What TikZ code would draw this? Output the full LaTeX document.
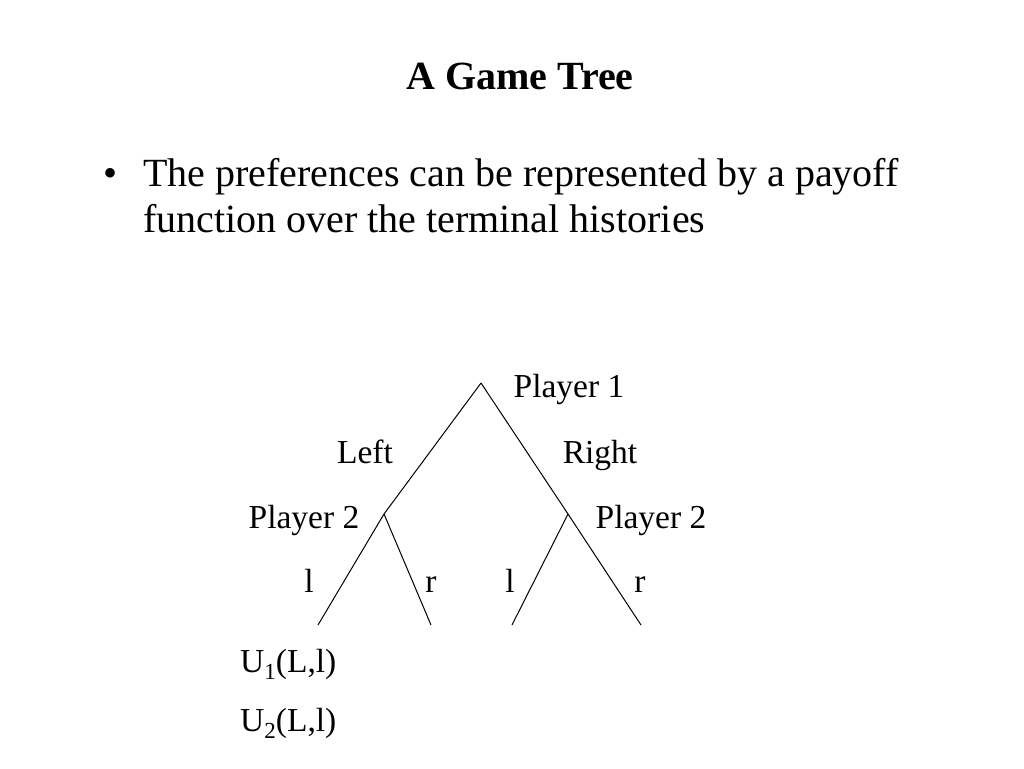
\documentclass[tikz,border=0pt]{standalone}
\usepackage{fontspec}
\setmainfont{Liberation Serif}
\newcommand{\subdown}[1]{\raisebox{-7pt}{\fontsize{23}{24}\selectfont #1}}
\begin{document}
\begin{tikzpicture}[x=1pt,y=-1pt,
  lbl/.style={inner sep=0pt,anchor=base,font=\fontsize{33.5}{38}\selectfont},
  body/.style={inner sep=0pt,anchor=base west,font=\fontsize{40}{46}\selectfont},
  edge/.style={draw=black,line width=1pt}]
\useasboundingbox[fill=white] (0,0) rectangle (1024,768);
% title and bullet
\node[inner sep=0pt,anchor=base,font=\fontsize{40}{46}\selectfont\bfseries] (title) at (520,89) {A Game Tree};
\node[inner sep=0pt,anchor=base,font=\fontsize{40}{46}\selectfont] (bul) at (110,186) {\textbullet};
\node[body] (t1) at (143,186) {The preferences can be represented by a payoff};
\node[body] (t2) at (143,232) {function over the terminal histories};
% tree points
\coordinate (root) at (481,383);
\coordinate (p2l) at (384,514);
\coordinate (p2r) at (568,514);
\coordinate (ll) at (318,625);
\coordinate (lr) at (431,625);
\coordinate (rl) at (512,625);
\coordinate (rr) at (641,625);
\draw[edge] (root) -- (p2l);
\draw[edge] (root) -- (p2r);
\draw[edge] (p2l) -- (ll);
\draw[edge] (p2l) -- (lr);
\draw[edge] (p2r) -- (rl);
\draw[edge] (p2r) -- (rr);
% labels
\node[lbl] (pl1) at (569,397) {Player 1};
\node[lbl] (left) at (365,463) {Left};
\node[lbl] (right) at (600,463) {Right};
\node[lbl] (pl2a) at (304,528) {Player 2};
\node[lbl] (pl2b) at (651,528) {Player 2};
\node[lbl] (l1) at (309,592) {l};
\node[lbl] (r1) at (431,592) {r};
\node[lbl] (l2) at (510,592) {l};
\node[lbl] (r2) at (640,592) {r};
\node[lbl,anchor=base west] (u1) at (240,672) {U\subdown{1}(L,l)};
\node[lbl,anchor=base west] (u2) at (240,731) {U\subdown{2}(L,l)};
\end{tikzpicture}
\end{document}
